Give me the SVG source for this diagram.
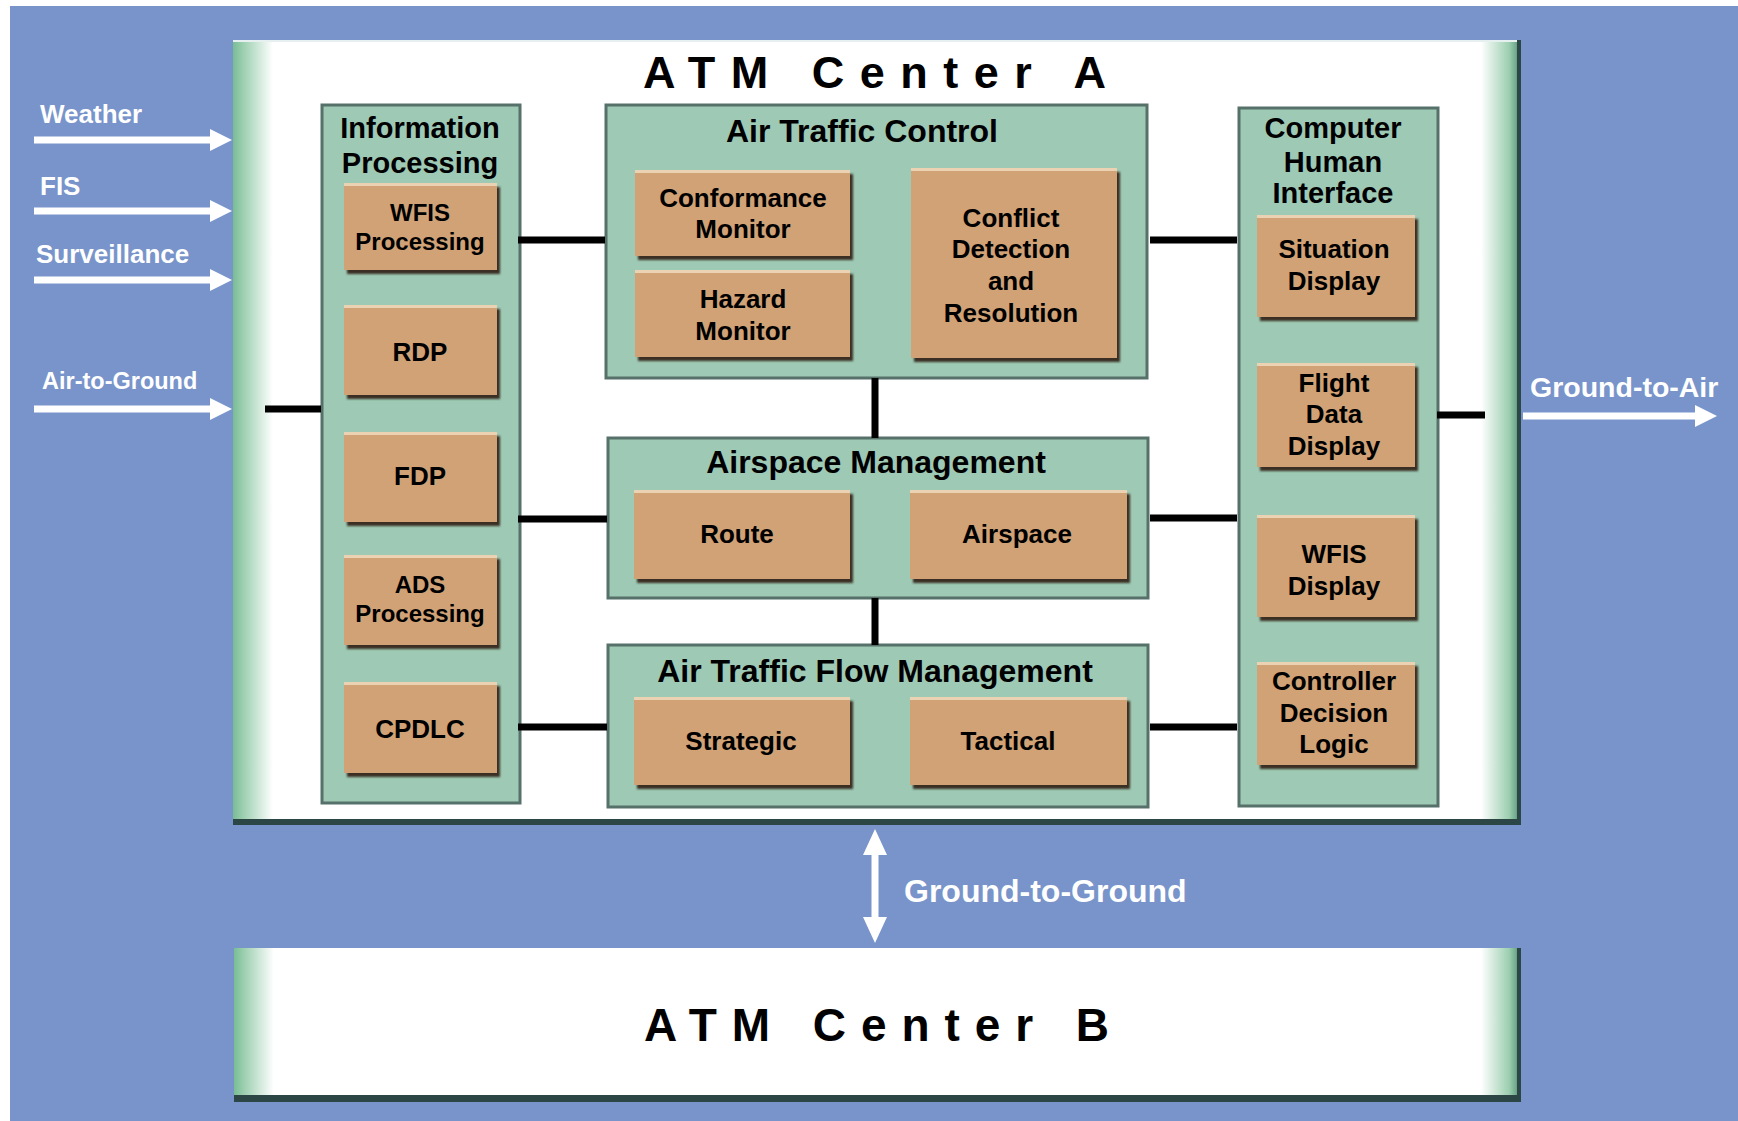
<svg xmlns="http://www.w3.org/2000/svg" width="1738" height="1121" viewBox="0 0 1738 1121">
<defs>
<style>
text{font-family:"Liberation Sans",Arial,Helvetica,sans-serif;font-weight:bold}
.wt{fill:#ffffff}
.ttl{font-size:45px;fill:#000}
.pt{font-size:29px;fill:#000;text-anchor:middle}
.pt2{font-size:32px;fill:#000;text-anchor:middle}
.bt{font-size:26px;fill:#000;text-anchor:middle}
.bs{font-size:24px;fill:#000;text-anchor:middle}
.panel{fill:#9dc9b5;stroke:#56716a;stroke-width:3}
.box{fill:#d0a276}
.bsh{fill:#3a2e22;filter:url(#blur)}
.hl{fill:#ead2b2}
.edge{fill:#2c4545}
.conn{stroke:#000;stroke-width:7;fill:none}
.warr{stroke:#fff;stroke-width:7;fill:none}
</style>
<filter id="blur" x="-5%" y="-5%" width="110%" height="110%"><feGaussianBlur stdDeviation="1"/></filter>
<linearGradient id="gl" x1="0" y1="0" x2="1" y2="0">
<stop offset="0" stop-color="#78bd94"/><stop offset="0.25" stop-color="#9ccfb0"/><stop offset="1" stop-color="#ffffff"/>
</linearGradient>
<linearGradient id="gr" x1="0" y1="0" x2="1" y2="0">
<stop offset="0" stop-color="#ffffff"/><stop offset="0.7" stop-color="#9ccfb0"/><stop offset="0.88" stop-color="#6fa88c"/><stop offset="1" stop-color="#2c4a48"/>
</linearGradient>
<marker id="wh" viewBox="0 0 22 22" refX="6" refY="11" markerWidth="22" markerHeight="22" markerUnits="userSpaceOnUse" orient="auto-start-reverse">
<path d="M0,0 L22,11 L0,22 z" fill="#fff"/>
</marker>
<marker id="wv" viewBox="0 0 26 24" refX="4" refY="12" markerWidth="26" markerHeight="24" markerUnits="userSpaceOnUse" orient="auto-start-reverse">
<path d="M0,0 L26,12 L0,24 z" fill="#fff"/>
</marker>
</defs>

<rect x="0" y="0" width="1738" height="1121" fill="#ffffff"/>
<rect x="10" y="6" width="1728" height="1115" fill="#7894ca"/>

<!-- ATM Center A -->
<g id="center-a">
<rect x="233" y="40" width="1288" height="780" fill="#ffffff"/>
<rect x="233" y="40" width="40" height="780" fill="url(#gl)"/>
<rect x="1481" y="40" width="40" height="780" fill="url(#gr)"/>
<rect x="233" y="40" width="1288" height="2" fill="#e6f0f0"/>
<rect class="edge" x="233" y="819" width="1288" height="6"/>
<rect class="edge" x="1517" y="40" width="4" height="785"/>
<text class="ttl" x="643" y="88" textLength="463" lengthAdjust="spacing">ATM Center A</text>
</g>

<!-- ATM Center B -->
<g id="center-b">
<rect x="234" y="948" width="1287" height="148" fill="#ffffff"/>
<rect x="234" y="948" width="40" height="148" fill="url(#gl)"/>
<rect x="1481" y="948" width="40" height="148" fill="url(#gr)"/>
<rect class="edge" x="234" y="1095" width="1287" height="7"/>
<rect class="edge" x="1517" y="948" width="4" height="154"/>
<text class="ttl" x="644" y="1041" textLength="465" lengthAdjust="spacing" style="font-size:46px">ATM Center B</text>
</g>

<!-- Information Processing -->
<g id="info-processing">
<rect class="panel" x="322" y="105" width="198" height="698"/>
<text class="pt" x="420" y="138">Information</text>
<text class="pt" x="420" y="173">Processing</text>
</g>
<g id="wfis-processing">
<rect class="bsh" x="347" y="187" width="153" height="87"/><rect class="box" x="344" y="183" width="153" height="87"/><rect class="hl" x="344" y="183" width="153" height="3"/>
<text class="bs" x="420" y="221">WFIS</text><text class="bs" x="420" y="250">Processing</text>
</g>
<g id="rdp">
<rect class="bsh" x="347" y="309" width="153" height="90"/><rect class="box" x="344" y="305" width="153" height="90"/><rect class="hl" x="344" y="305" width="153" height="3"/>
<text class="bt" x="420" y="361">RDP</text>
</g>
<g id="fdp">
<rect class="bsh" x="347" y="436" width="153" height="90"/><rect class="box" x="344" y="432" width="153" height="90"/><rect class="hl" x="344" y="432" width="153" height="3"/>
<text class="bt" x="420" y="485">FDP</text>
</g>
<g id="ads-processing">
<rect class="bsh" x="347" y="559" width="153" height="90"/><rect class="box" x="344" y="555" width="153" height="90"/><rect class="hl" x="344" y="555" width="153" height="3"/>
<text class="bs" x="420" y="593">ADS</text><text class="bs" x="420" y="622">Processing</text>
</g>
<g id="cpdlc">
<rect class="bsh" x="347" y="686" width="153" height="91"/><rect class="box" x="344" y="682" width="153" height="91"/><rect class="hl" x="344" y="682" width="153" height="3"/>
<text class="bt" x="420" y="738">CPDLC</text>
</g>

<!-- Air Traffic Control -->
<g id="air-traffic-control">
<rect class="panel" x="606" y="105" width="541" height="273"/>
<text class="pt2" x="862" y="142">Air Traffic Control</text>
</g>
<g id="conformance-monitor">
<rect class="bsh" x="638" y="174" width="215" height="86"/><rect class="box" x="635" y="170" width="215" height="86"/><rect class="hl" x="635" y="170" width="215" height="3"/>
<text class="bt" x="743" y="207">Conformance</text><text class="bt" x="743" y="238">Monitor</text>
</g>
<g id="hazard-monitor">
<rect class="bsh" x="638" y="274" width="215" height="87"/><rect class="box" x="635" y="270" width="215" height="87"/><rect class="hl" x="635" y="270" width="215" height="3"/>
<text class="bt" x="743" y="308">Hazard</text><text class="bt" x="743" y="340">Monitor</text>
</g>
<g id="conflict-detection">
<rect class="bsh" x="914" y="172" width="206" height="190"/><rect class="box" x="911" y="168" width="206" height="190"/><rect class="hl" x="911" y="168" width="206" height="3"/>
<text class="bt" x="1011" y="227">Conflict</text><text class="bt" x="1011" y="258">Detection</text><text class="bt" x="1011" y="290">and</text><text class="bt" x="1011" y="322">Resolution</text>
</g>

<!-- Airspace Management -->
<g id="airspace-management">
<rect class="panel" x="608" y="438" width="540" height="160"/>
<text class="pt2" x="876" y="473">Airspace Management</text>
</g>
<g id="route">
<rect class="bsh" x="637" y="494" width="216" height="89"/><rect class="box" x="634" y="490" width="216" height="89"/><rect class="hl" x="634" y="490" width="216" height="3"/>
<text class="bt" x="737" y="543">Route</text>
</g>
<g id="airspace">
<rect class="bsh" x="913" y="494" width="217" height="89"/><rect class="box" x="910" y="490" width="217" height="89"/><rect class="hl" x="910" y="490" width="217" height="3"/>
<text class="bt" x="1017" y="543">Airspace</text>
</g>

<!-- Air Traffic Flow Management -->
<g id="air-traffic-flow-management">
<rect class="panel" x="608" y="645" width="540" height="162"/>
<text class="pt2" x="875" y="682">Air Traffic Flow Management</text>
</g>
<g id="strategic">
<rect class="bsh" x="637" y="701" width="216" height="88"/><rect class="box" x="634" y="697" width="216" height="88"/><rect class="hl" x="634" y="697" width="216" height="3"/>
<text class="bt" x="741" y="750">Strategic</text>
</g>
<g id="tactical">
<rect class="bsh" x="913" y="701" width="217" height="88"/><rect class="box" x="910" y="697" width="217" height="88"/><rect class="hl" x="910" y="697" width="217" height="3"/>
<text class="bt" x="1008" y="750">Tactical</text>
</g>

<!-- Computer Human Interface -->
<g id="computer-human-interface">
<rect class="panel" x="1239" y="108" width="199" height="698"/>
<text class="pt" x="1333" y="138">Computer</text>
<text class="pt" x="1333" y="172">Human</text>
<text class="pt" x="1333" y="203">Interface</text>
</g>
<g id="situation-display">
<rect class="bsh" x="1260" y="219" width="158" height="102"/><rect class="box" x="1257" y="215" width="158" height="102"/><rect class="hl" x="1257" y="215" width="158" height="3"/>
<text class="bt" x="1334" y="258">Situation</text><text class="bt" x="1334" y="290">Display</text>
</g>
<g id="flight-data-display">
<rect class="bsh" x="1260" y="367" width="158" height="104"/><rect class="box" x="1257" y="363" width="158" height="104"/><rect class="hl" x="1257" y="363" width="158" height="3"/>
<text class="bt" x="1334" y="392">Flight</text><text class="bt" x="1334" y="423">Data</text><text class="bt" x="1334" y="455">Display</text>
</g>
<g id="wfis-display">
<rect class="bsh" x="1260" y="519" width="158" height="102"/><rect class="box" x="1257" y="515" width="158" height="102"/><rect class="hl" x="1257" y="515" width="158" height="3"/>
<text class="bt" x="1334" y="563">WFIS</text><text class="bt" x="1334" y="595">Display</text>
</g>
<g id="controller-decision-logic">
<rect class="bsh" x="1260" y="666" width="158" height="103"/><rect class="box" x="1257" y="662" width="158" height="103"/><rect class="hl" x="1257" y="662" width="158" height="3"/>
<text class="bt" x="1334" y="690">Controller</text><text class="bt" x="1334" y="722">Decision</text><text class="bt" x="1334" y="753">Logic</text>
</g>

<!-- Connectors -->
<g id="connectors">
<line class="conn" x1="265" y1="409" x2="321" y2="409"/>
<line class="conn" x1="518" y1="240" x2="605" y2="240"/>
<line class="conn" x1="518" y1="519" x2="607" y2="519"/>
<line class="conn" x1="518" y1="727" x2="607" y2="727"/>
<line class="conn" x1="1150" y1="240" x2="1237" y2="240"/>
<line class="conn" x1="1150" y1="518" x2="1237" y2="518"/>
<line class="conn" x1="1150" y1="727" x2="1237" y2="727"/>
<line class="conn" x1="875" y1="378" x2="875" y2="438"/>
<line class="conn" x1="875" y1="598" x2="875" y2="645"/>
<line class="conn" x1="1437" y1="415" x2="1485" y2="415"/>
<line class="warr" x1="34" y1="140" x2="216" y2="140" marker-end="url(#wh)"/>
<line class="warr" x1="34" y1="211" x2="216" y2="211" marker-end="url(#wh)"/>
<line class="warr" x1="34" y1="280" x2="216" y2="280" marker-end="url(#wh)"/>
<line class="warr" x1="34" y1="409" x2="216" y2="409" marker-end="url(#wh)"/>
<line class="warr" x1="1523" y1="416" x2="1701" y2="416" marker-end="url(#wh)"/>
<line class="warr" x1="875" y1="851" x2="875" y2="921" stroke-width="8" marker-start="url(#wv)" marker-end="url(#wv)"/>
</g>

<!-- Labels -->
<g id="labels">
<text class="wt" x="40" y="123" font-size="26">Weather</text>
<text class="wt" x="40" y="195" font-size="26">FIS</text>
<text class="wt" x="36" y="263" font-size="26">Surveillance</text>
<text class="wt" x="42" y="389" font-size="23.5">Air-to-Ground</text>
<text class="wt" x="1530" y="397" font-size="28.5">Ground-to-Air</text>
<text class="wt" x="904" y="902" font-size="32">Ground-to-Ground</text>
</g>
</svg>
